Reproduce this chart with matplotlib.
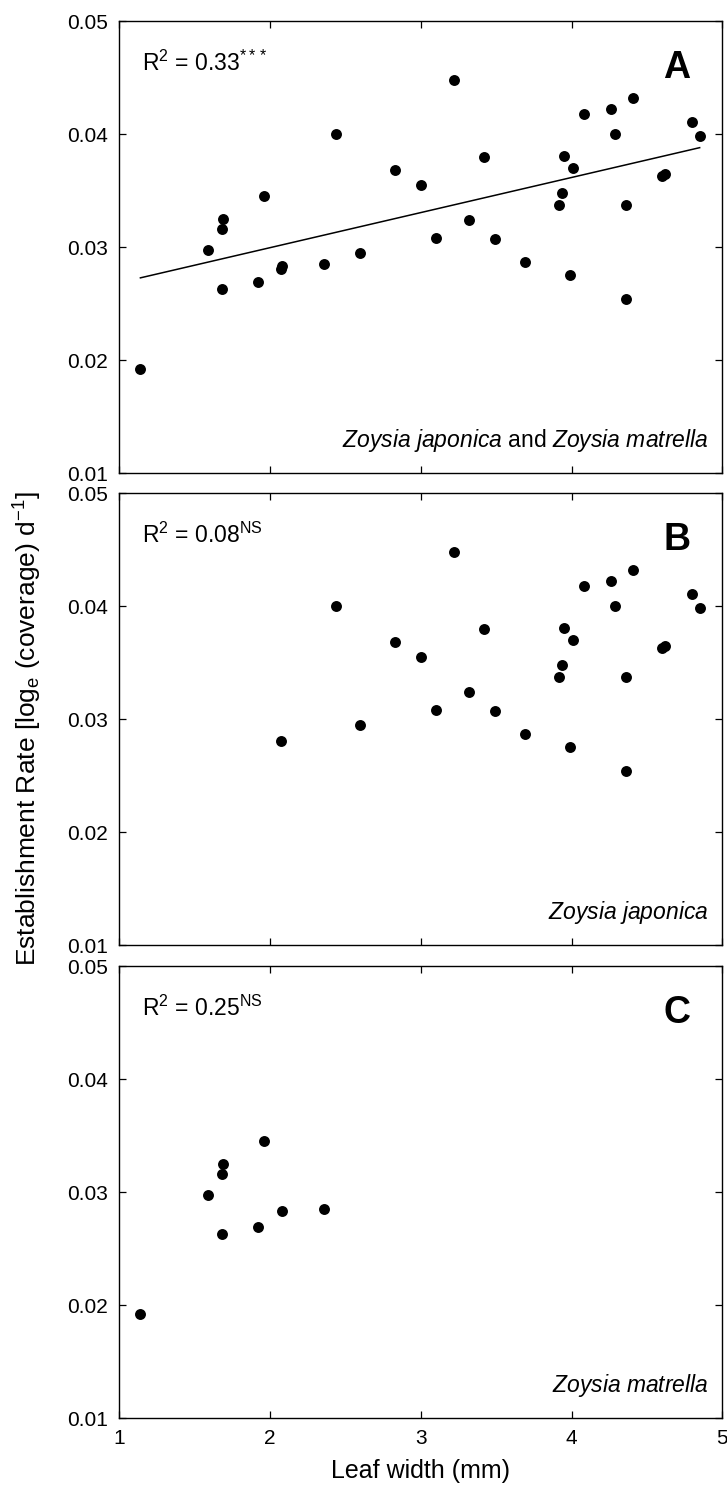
import matplotlib
matplotlib.use('Agg')
import matplotlib.pyplot as plt
import numpy as np

plt.rcParams['font.family'] = ['Liberation Sans', 'DejaVu Sans']
plt.rcParams['mathtext.fontset'] = 'custom'
plt.rcParams['mathtext.rm'] = 'Liberation Sans'
plt.rcParams['mathtext.it'] = 'Liberation Sans:italic'
plt.rcParams['mathtext.bf'] = 'Liberation Sans:bold'

# Zoysia japonica: leaf width (mm), establishment rate
jap_width = [2.07, 2.44, 2.60, 2.83, 3.00, 3.10, 3.22, 3.32, 3.42, 3.49, 3.69,
             3.92, 3.94, 3.95, 3.99, 4.01, 4.08, 4.26, 4.29, 4.36, 4.36, 4.41,
             4.60, 4.62, 4.80, 4.85]
jap_rate = [0.0281, 0.0400, 0.0295, 0.0368, 0.0355, 0.0308, 0.0448, 0.0324,
            0.0380, 0.0307, 0.0287, 0.0337, 0.0348, 0.0381, 0.0275, 0.0370,
            0.0418, 0.0422, 0.0400, 0.0337, 0.0254, 0.0432, 0.0363, 0.0365,
            0.0411, 0.0398]

# Zoysia matrella
mat_width = [1.14, 1.59, 1.68, 1.68, 1.69, 1.92, 1.96, 2.08, 2.36]
mat_rate = [0.0192, 0.0297, 0.0263, 0.0316, 0.0325, 0.0269, 0.0345, 0.0283, 0.0285]

panel_letters = ['A', 'B', 'C']
r2_labels = [r'R$^{2}$ = 0.33$^{***}$', r'R$^{2}$ = 0.08$^{\mathrm{NS}}$',
             r'R$^{2}$ = 0.25$^{\mathrm{NS}}$']
species_labels = [r'$\mathit{Zoysia\ japonica}$ and $\mathit{Zoysia\ matrella}$',
                  r'$\mathit{Zoysia\ japonica}$',
                  r'$\mathit{Zoysia\ matrella}$']

all_width = np.array(jap_width + mat_width)
all_rate = np.array(jap_rate + mat_rate)
panels = [(all_width, all_rate), (np.array(jap_width), np.array(jap_rate)),
          (np.array(mat_width), np.array(mat_rate))]

fig = plt.figure(figsize=(7.27, 14.96), dpi=100)
left, width, height = 0.1641, 0.8294, 0.3021
bottoms = [0.6838, 0.3683, 0.0521]

for i, (xw, yr) in enumerate(panels):
    ax = fig.add_axes([left, bottoms[i], width, height])
    ax.scatter(xw, yr, s=62, color='black', zorder=3, linewidths=0)
    if i == 0:
        slope, icpt = np.polyfit(xw, yr, 1)
        xs = np.array([xw.min(), xw.max()])
        ax.plot(xs, slope * xs + icpt, color='black', lw=1.1)
    ax.set_xlim(1, 5)
    ax.set_ylim(0.01, 0.05)
    ax.set_xticks([1, 2, 3, 4, 5])
    ax.set_yticks([0.01, 0.02, 0.03, 0.04, 0.05])
    ax.set_yticklabels(['0.01', '0.02', '0.03', '0.04', '0.05'])
    ax.tick_params(direction='in', top=True, right=True, length=5, width=0.9,
                   labelsize=15, pad=8)
    if i < 2:
        ax.tick_params(labelbottom=False)
    for sp in ax.spines.values():
        sp.set_linewidth(1.0)
    ax.text(0.037, 0.89, r2_labels[i], transform=ax.transAxes, fontsize=16.5,
            ha='left', va='baseline')
    ax.text(0.947, 0.875, panel_letters[i], transform=ax.transAxes, fontsize=27,
            fontweight='bold', ha='right', va='baseline')
    ax.text(0.977, 0.058, species_labels[i], transform=ax.transAxes, fontsize=16.5,
            ha='right', va='baseline')
    if i == 2:
        ax.set_xlabel('Leaf width (mm)', fontsize=18, labelpad=8)

fig.text(0.038, 0.5127, r'Establishment Rate [log$_{\mathrm{e}}$ (coverage) d$^{-1}$]',
         rotation=90, fontsize=19, ha='center', va='center')

fig.savefig('out.png', dpi=100)
